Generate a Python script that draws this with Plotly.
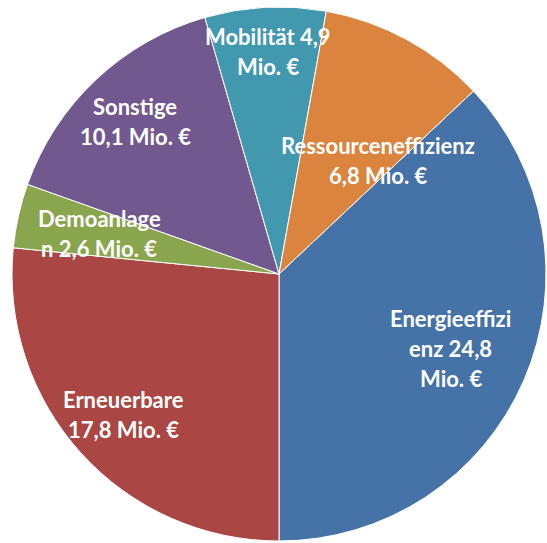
import math
import plotly.graph_objects as go

categories = ["Energieeffizienz", "Erneuerbare", "Demoanlagen", "Sonstige", "Mobilität", "Ressourceneffizienz"]
values = [24.8, 17.8, 2.6, 10.1, 4.9, 6.8]
label_lines = [
    ["Energieeffizi", "enz 24,8", "Mio. €"],
    ["Erneuerbare", "17,8 Mio. €"],
    ["Demoanlage", "n 2,6 Mio. €"],
    ["Sonstige", "10,1 Mio. €"],
    ["Mobilität 4,9", "Mio. €"],
    ["Ressourceneffizienz", "6,8 Mio. €"],
]
colors = ["#4572A7", "#AA4643", "#89A54E", "#71588F", "#4198AF", "#DB843D"]

# label placement style (fraction of radius, angular nudge in degrees)
label_r = [0.70, 0.785, 0.69, 0.785, 0.835, 0.565]
label_da = [0, 0, 0, 0, 0, 12.5]

W, H = 547, 543
dom_x = [12 / W, 546 / W]
dom_y = [1 / H, 537 / H]

total = sum(values)
start = 180 - values[0] / total * 360  # first slice ends at 6 o'clock

fig = go.Figure(go.Pie(
    labels=categories,
    values=values,
    sort=False,
    direction="clockwise",
    rotation=start,
    marker=dict(colors=colors, line=dict(color="white", width=1)),
    textinfo="none",
    hoverinfo="label+value",
    domain=dict(x=dom_x, y=dom_y),
    showlegend=False,
))

wpx = (dom_x[1] - dom_x[0]) * W
hpx = (dom_y[1] - dom_y[0]) * H
R = min(wpx, hpx) / 2
cx = (dom_x[0] + dom_x[1]) / 2
cy = (dom_y[0] + dom_y[1]) / 2

annotations = []
acc = 0.0
line_h = 30
for v, lines, rf, da in zip(values, label_lines, label_r, label_da):
    mid = start + (acc + v / 2) / total * 360 + da
    acc += v
    a = math.radians(mid)
    x = cx + rf * R * math.sin(a) / W
    y = cy + rf * R * math.cos(a) / H
    n = len(lines)
    for i, t in enumerate(lines):
        annotations.append(dict(
            x=x, y=y, xref="paper", yref="paper", text=t, showarrow=False,
            yshift=((n - 1) / 2 - i) * line_h,
            font=dict(family="Lato", size=22, color="white", weight="bold"),
            xanchor="center", yanchor="middle",
        ))

fig.update_layout(
    width=W, height=H,
    margin=dict(l=0, r=0, t=0, b=0),
    paper_bgcolor="white",
    annotations=annotations,
)

fig.write_html(
    "out.html",
    config={"displayModeBar": False},
    post_script="document.body.style.margin='0';document.body.style.overflow='hidden';",
)
